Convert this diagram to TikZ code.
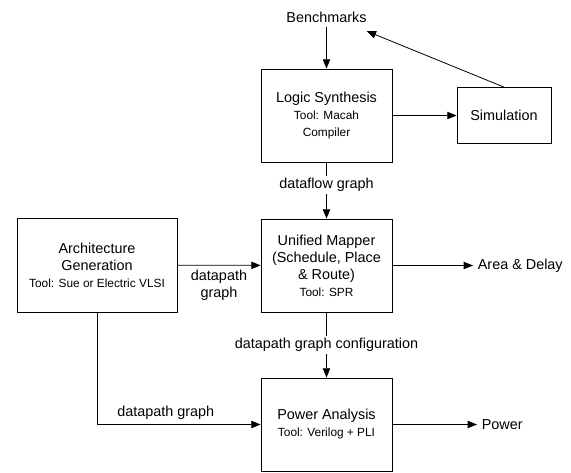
\documentclass[tikz,border=0pt]{standalone}
\usepackage{fontspec}
\setmainfont{Liberation Sans}
\usetikzlibrary{arrows.meta}
\newcommand{\toolfont}{\fontsize{8.9}{11}\selectfont}

\begin{document}
\begin{tikzpicture}
  [x=0.75pt, y=-0.75pt, line width=0.6pt,
   >={Triangle[length=7pt,width=5.5pt]},
   font=\fontsize{10.8}{12.75}\selectfont,
   block/.style={draw, align=center, inner sep=1pt}]
  \useasboundingbox (0,0) rectangle (571,472);
  \node (bench) at (326.5, 17) {Benchmarks};
  \node[block, minimum width=98.25pt, minimum height=69.75pt] (logic) at (326.5, 115.5)
    {Logic Synthesis\\{\toolfont Tool: Macah}\\{\toolfont Compiler}};
  \node[block, minimum width=70.5pt, minimum height=42pt] (sim) at (504, 115.5) {Simulation};
  \node[block, minimum width=120pt, minimum height=70.5pt] (arch) at (97, 265)
    {Architecture\\Generation\\{\toolfont Tool: Sue or Electric VLSI}};
  \node[block, minimum width=98.25pt, minimum height=69.75pt] (mapper) at (326.5, 265.5)
    {Unified Mapper\\(Schedule, Place\\\& Route)\\{\toolfont Tool: SPR}};
  \node[block, minimum width=98.25pt, minimum height=69.75pt] (power) at (326.5, 424.5)
    {Power Analysis\\{\toolfont Tool: Verilog + PLI}};
  \node[anchor=west] (area) at (473, 265.5) {Area \& Delay};
  \node[anchor=west] (pout) at (477, 424.5) {Power};

  \draw[->] (bench) -- (logic);
  \draw[->] (logic) -- (sim);
  \draw[->] (sim.north) -- ([xshift=-3.5pt,yshift=-3pt]bench.south east);
  \draw[->] (logic) -- node[fill=white, inner sep=2pt, pos=0.4] {dataflow graph} (mapper);
  \draw[->] (arch) -- node[below, align=center] {datapath\\graph} (mapper);
  \draw[->] (mapper) -- (area);
  \draw[->] (mapper) -- node[fill=white, inner sep=2pt] {datapath graph configuration} (power);
  \draw[->] (arch) |- node[above, pos=0.71] {datapath graph} (power);
  \draw[->] (power) -- (pout);
\end{tikzpicture}
\end{document}
